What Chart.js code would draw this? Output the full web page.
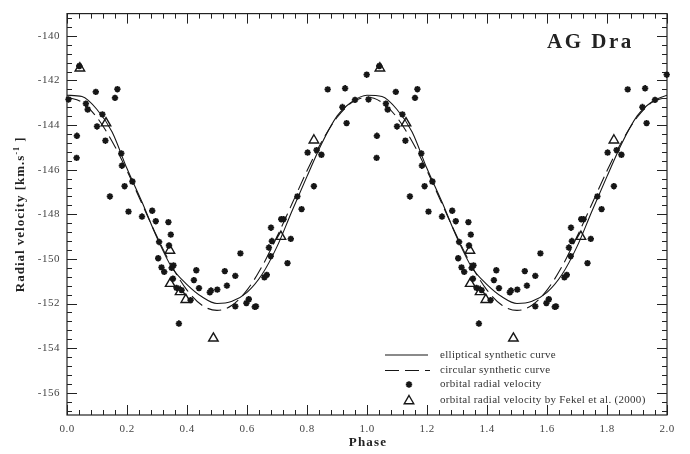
<!DOCTYPE html>
<html>
<head>
<meta charset="utf-8">
<title>AG Dra radial velocity</title>
<script src="https://cdn.jsdelivr.net/npm/chart.js@4.4.1/dist/chart.umd.min.js"></script>
<style>
  html, body { margin: 0; padding: 0; background: #fff; }
  #box { position: relative; width: 690px; height: 454px; }
</style>
</head>
<body>
<div id="box"><canvas id="rvChart"></canvas></div>
<script>
// Phase-folded data, one cycle. Every value is drawn at phase p and again at p + 1.
const obsPhase = [
    0.005, 0.032, 0.033, 0.041, 0.063, 0.069, 0.096, 0.100,
    0.118, 0.128, 0.143, 0.160, 0.168, 0.181, 0.183, 0.192,
    0.205, 0.218, 0.250, 0.284, 0.296, 0.304, 0.307, 0.315,
    0.324, 0.338, 0.340, 0.346, 0.349, 0.353, 0.355, 0.365,
    0.373, 0.382, 0.412, 0.423, 0.431, 0.440, 0.476, 0.480,
    0.501, 0.526, 0.533, 0.561, 0.561, 0.578, 0.598, 0.606,
    0.626, 0.630, 0.658, 0.666, 0.673, 0.679, 0.680, 0.683,
    0.714, 0.722, 0.735, 0.746, 0.768, 0.782, 0.802, 0.823,
    0.832, 0.848, 0.869, 0.918, 0.927, 0.932, 0.960, 0.999
];
const obsVel = [
    -142.85, -145.47, -144.48, -141.35, -143.04, -143.30, -142.51, -144.06,
    -143.52, -144.70, -147.20, -142.78, -142.39, -145.27, -145.82, -146.74,
    -147.88, -146.53, -148.10, -147.84, -148.31, -149.97, -149.24, -150.38,
    -150.58, -148.35, -149.40, -148.91, -150.40, -150.89, -150.29, -151.30,
    -152.90, -151.40, -151.85, -150.95, -150.51, -151.31, -151.50, -151.42,
    -151.38, -150.55, -151.20, -150.76, -152.13, -149.75, -151.98, -151.81,
    -152.15, -152.13, -150.83, -150.72, -149.49, -149.88, -148.60, -149.20,
    -148.22, -148.22, -150.19, -149.10, -147.20, -147.77, -145.23, -146.74,
    -145.12, -145.33, -142.40, -143.19, -142.35, -143.91, -142.87, -141.74
];

// Fekel et al. (2000)
const fekelPhase = [0.043, 0.130, 0.343, 0.344, 0.377, 0.396, 0.488, 0.713, 0.823];
const fekelVel = [-141.45, -143.91, -149.62, -151.11, -151.48, -151.83, -153.56, -149.00, -144.68];

// synthetic curves, one cycle
const curvePhase = [0, 0.05, 0.10, 0.15, 0.20, 0.25, 0.30, 0.35, 0.40, 0.45, 0.50,
    0.55, 0.60, 0.65, 0.70, 0.75, 0.80, 0.85, 0.90, 0.95, 1.00];
const ellipticVel = [-142.66, -142.72, -143.30, -144.30, -145.95, -147.45, -149.05, -150.40, -151.15, -151.70, -152.00,
    -151.90, -151.50, -150.70, -149.45, -147.85, -146.30, -144.80, -143.60, -142.95, -142.66];
const circularVel = [-142.75, -142.98, -143.66, -144.72, -146.05, -147.53, -149.00, -150.34, -151.40, -152.08, -152.31,
    -152.08, -151.40, -150.34, -149.00, -147.53, -146.05, -144.72, -143.66, -142.98, -142.75];

// labelled ticks
const xMajor = [0, 0.2, 0.4, 0.6, 0.8, 1.0, 1.2, 1.4, 1.6, 1.8, 2.0];
const yMajor = [-156, -154, -152, -150, -148, -146, -144, -142, -140];

const legendLabels = [
    'elliptical synthetic curve',
    'circular synthetic curve',
    'orbital radial velocity',
    'orbital radial velocity by Fekel et al. (2000)'
];

const INK = '#161616';
const SERIF = '"Liberation Serif", "Times New Roman", serif';

function twoCycles(ph, vel, skipSeam) {
    var pts = [];
    [0, 1].forEach(function (k) {
        ph.forEach(function (p, i) {
            if (skipSeam && k === 1 && i === 0) return; // x = 1 is already there
            pts.push({ x: p + k, y: vel[i] });
        });
    });
    return pts;
}

function tickRun(from, to, step) {
    var out = [];
    for (var k = 0; from + k * step <= to + 1e-9; k++) {
        out.push({ value: +(from + k * step).toFixed(3) });
    }
    return out;
}

function isIn(list, v) {
    return list.some(function (m) { return Math.abs(m - v) < 1e-6; });
}

// frame with inward ticks on all four sides
const frameTicks = {
    id: 'frameTicks',
    beforeDraw(chart) {
        chart.ctx.letterSpacing = '0.5px';
    },
    beforeDatasetsDraw(chart) {
        var ctx = chart.ctx, a = chart.chartArea;
        var x = chart.scales.x, y = chart.scales.y;
        ctx.save();
        ctx.letterSpacing = '0px';
        ctx.strokeStyle = '#222';
        ctx.lineWidth = 1.2;
        ctx.strokeRect(a.left, a.top, a.right - a.left, a.bottom - a.top);
        ctx.lineWidth = 1;
        ctx.beginPath();
        x.ticks.forEach(function (t) {
            var px = Math.round(x.getPixelForValue(t.value)) + 0.5;
            var len = isIn(xMajor, t.value) ? 10 : 5;
            ctx.moveTo(px, a.bottom); ctx.lineTo(px, a.bottom - len);
            ctx.moveTo(px, a.top); ctx.lineTo(px, a.top + len);
        });
        y.ticks.forEach(function (t) {
            var py = Math.round(y.getPixelForValue(t.value)) + 0.5;
            var len = isIn(yMajor, t.value) ? 10 : 5;
            ctx.moveTo(a.left, py); ctx.lineTo(a.left + len, py);
            ctx.moveTo(a.right, py); ctx.lineTo(a.right - len, py);
        });
        ctx.stroke();
        ctx.restore();
    }
};

function drawStar(ctx, cx, cy, r) {
    ctx.beginPath();
    for (var i = 0; i < 4; i++) {
        var ang = i * Math.PI / 4;
        ctx.moveTo(cx - Math.cos(ang) * r, cy - Math.sin(ang) * r);
        ctx.lineTo(cx + Math.cos(ang) * r, cy + Math.sin(ang) * r);
    }
    ctx.stroke();
}

function drawTriangle(ctx, cx, cy, r) {
    ctx.beginPath();
    for (var i = 0; i < 3; i++) {
        var ang = i * 2 * Math.PI / 3;
        var px = cx + Math.sin(ang) * r, py = cy - Math.cos(ang) * r;
        if (i === 0) ctx.moveTo(px, py); else ctx.lineTo(px, py);
    }
    ctx.closePath();
    ctx.stroke();
}

// star name, legend and axis titles
const overlayText = {
    id: 'overlayText',
    afterDraw(chart) {
        var ctx = chart.ctx, a = chart.chartArea;
        ctx.save();
        ctx.fillStyle = '#222';
        ctx.strokeStyle = INK;

        // object name
        ctx.font = 'bold 21px ' + SERIF;
        ctx.letterSpacing = '2.5px';
        ctx.textAlign = 'left';
        ctx.textBaseline = 'alphabetic';
        ctx.fillText('AG Dra', 547, 48);

        // legend
        var rows = [355, 370.5, 384.5, 400];
        ctx.lineWidth = 1.1;
        ctx.beginPath(); ctx.moveTo(385, rows[0]); ctx.lineTo(428, rows[0]); ctx.stroke();
        ctx.setLineDash([14, 6]);
        ctx.beginPath(); ctx.moveTo(385, rows[1]); ctx.lineTo(430, rows[1]); ctx.stroke();
        ctx.setLineDash([]);
        ctx.lineWidth = 1.8;
        drawStar(ctx, 409, rows[2], 3.2);
        ctx.lineWidth = 1.4;
        drawTriangle(ctx, 409, rows[3] + 1, 5.5);

        ctx.font = '11px ' + SERIF;
        ctx.letterSpacing = '0.3px';
        ctx.textBaseline = 'middle';
        ctx.fillStyle = '#333';
        legendLabels.forEach(function (txt, i) { ctx.fillText(txt, 440, rows[i]); });

        // x title
        ctx.fillStyle = '#222';
        ctx.font = 'bold 13px ' + SERIF;
        ctx.letterSpacing = '1.2px';
        ctx.textAlign = 'center';
        ctx.fillText('Phase', (a.left + a.right) / 2 + 1, 443);

        // y title, rotated, with a superscript -1
        ctx.translate(21, (a.top + a.bottom) / 2);
        ctx.rotate(-Math.PI / 2);
        ctx.textAlign = 'left';
        ctx.letterSpacing = '1px';
        var mainFont = 'bold 13px ' + SERIF, supFont = 'bold 8px ' + SERIF;
        var p1 = 'Radial velocity [km.s', p2 = '-1', p3 = ' ]';
        ctx.font = mainFont; var w1 = ctx.measureText(p1).width, w3 = ctx.measureText(p3).width;
        ctx.font = supFont; var w2 = ctx.measureText(p2).width;
        var x0 = -(w1 + w2 + w3) / 2;
        ctx.font = mainFont; ctx.fillText(p1, x0, 0);
        ctx.font = supFont; ctx.fillText(p2, x0 + w1, -4);
        ctx.font = mainFont; ctx.fillText(p3, x0 + w1 + w2, 0);

        ctx.restore();
        ctx.letterSpacing = '0px';
    }
};

Chart.defaults.font.family = SERIF;
Chart.defaults.color = '#444';

new Chart(document.getElementById('rvChart'), {
    type: 'scatter',
    data: {
        datasets: [
            {
                label: legendLabels[3],
                data: twoCycles(fekelPhase, fekelVel, false),
                pointStyle: 'triangle',
                pointRadius: 5.5,
                pointBorderWidth: 1.4,
                borderColor: INK,
                backgroundColor: 'rgba(0,0,0,0)',
                clip: false,
                order: 0
            },
            {
                label: legendLabels[2],
                data: twoCycles(obsPhase, obsVel, false),
                pointStyle: 'star',
                pointRadius: 3.2,
                pointBorderWidth: 1.8,
                borderColor: INK,
                backgroundColor: INK,
                clip: false,
                order: 1
            },
            {
                label: legendLabels[0],
                data: twoCycles(curvePhase, ellipticVel, true),
                showLine: true,
                pointRadius: 0,
                borderColor: INK,
                borderWidth: 1.1,
                cubicInterpolationMode: 'monotone',
                order: 2
            },
            {
                label: legendLabels[1],
                data: twoCycles(curvePhase, circularVel, true),
                showLine: true,
                pointRadius: 0,
                borderColor: INK,
                borderWidth: 1.1,
                borderDash: [14, 6],
                cubicInterpolationMode: 'monotone',
                order: 3
            }
        ]
    },
    options: {
        responsive: true,
        maintainAspectRatio: false,
        animation: false,
        events: [],
        layout: { padding: { left: 0, right: 23, top: 4, bottom: 0 } },
        plugins: {
            legend: { display: false },
            tooltip: { enabled: false }
        },
        scales: {
            x: {
                type: 'linear',
                min: 0,
                max: 2,
                afterBuildTicks: function (s) { s.ticks = tickRun(0, 2, 0.04); },
                afterFit: function (s) { s.height = 39; },
                grid: { display: false, drawTicks: false },
                border: { display: false },
                ticks: {
                    autoSkip: false,
                    maxRotation: 0,
                    padding: 8,
                    font: { size: 11 },
                    callback: function (v) { return isIn(xMajor, v) ? v.toFixed(1) : ''; }
                }
            },
            y: {
                type: 'linear',
                min: -157,
                max: -139,
                afterBuildTicks: function (s) { s.ticks = tickRun(-156.8, -139.2, 0.4); },
                afterFit: function (s) { s.width = 67; },
                grid: { display: false, drawTicks: false },
                border: { display: false },
                ticks: {
                    autoSkip: false,
                    padding: 7,
                    font: { size: 11 },
                    callback: function (v) { return isIn(yMajor, v) ? String(v) : ''; }
                }
            }
        }
    },
    plugins: [frameTicks, overlayText]
});
</script>
</body>
</html>
